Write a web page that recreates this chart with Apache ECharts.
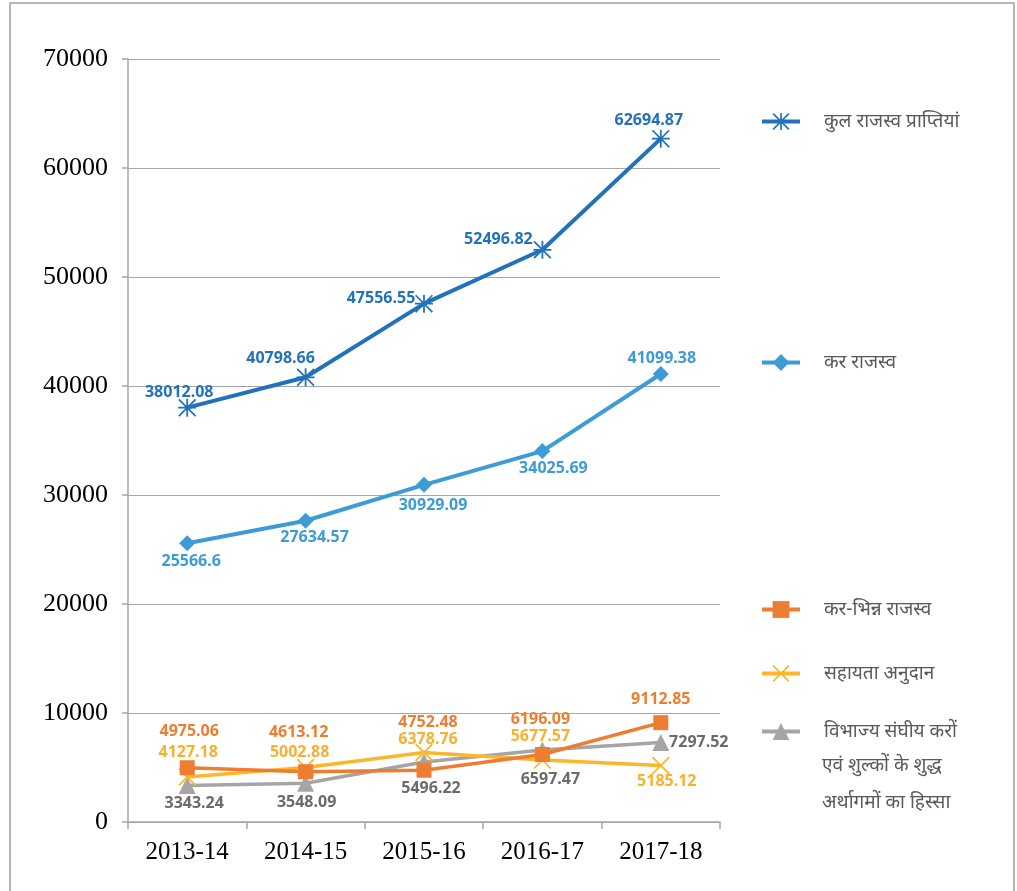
<!DOCTYPE html>
<html>
<head>
<meta charset="utf-8">
<style>
    html, body { margin: 0; padding: 0; background: #fff; }
    #revenueChart { width: 1017px; height: 891px; }
</style>
<script src="https://cdn.jsdelivr.net/npm/echarts@6/dist/echarts.min.js"></script>
</head>
<body>
<div id="revenueChart"></div>
<script>
    // data
    var years = ['2013-14', '2014-15', '2015-16', '2016-17', '2017-18'];
    var totalReceipts = [38012.08, 40798.66, 47556.55, 52496.82, 62694.87];
    var taxRevenue = [25566.6, 27634.57, 30929.09, 34025.69, 41099.38];
    var nonTaxRevenue = [4975.06, 4613.12, 4752.48, 6196.09, 9112.85];
    var grantsInAid = [4127.18, 5002.88, 6378.76, 5677.57, 5185.12];
    var centralTaxShare = [3343.24, 3548.09, 5496.22, 6597.47, 7297.52];
    var yTicks = [0, 10000, 20000, 30000, 40000, 50000, 60000, 70000];

    var seriesNames = ['कुल राजस्व प्राप्तियां', 'कर राजस्व', 'कर-भिन्न राजस्व', 'सहायता अनुदान',
        'विभाज्य संघीय करों एवं शुल्कों के शुद्ध अर्थागमों का हिस्सा'];

    // label placement (offset of label centre from the point), kept apart from values
    var labelShift = [
        [[-8, -15], [-25, -19], [-43, -5], [-44, -10], [-12, -18]],
        [[4, 18], [9, 17], [9, 21], [11, 17], [1, -16]],
        [[2, -36], [-7, -39], [4, -48], [-2, -35], [0, -23]],
        [[1, -25], [-6, -15], [4, -13], [-2, -24], [6, 16]],
        [[7, 18], [1, 19], [7, 26], [8, 29], [38, 0]]
    ];

    var asterisk = 'path://M0 7.2H16V8.8H0Z M7.2 0H8.8V16H7.2Z M1.1 0L16 14.9L14.9 16L0 1.1Z M14.9 0L16 1.1L1.1 16L0 14.9Z';
    var cross = 'path://M1.1 0L16 14.9L14.9 16L0 1.1Z M14.9 0L16 1.1L1.1 16L0 14.9Z';

    function withLabels(values, idx) {
        return values.map(function (v, i) {
            return {value: v, label: {offset: labelShift[idx][i]}};
        });
    }

    function makeSeries(idx, values, color, labelColor, symbol, symbolSize, width) {
        return {
            name: seriesNames[idx],
            type: 'line',
            data: withLabels(values, idx),
            symbol: symbol,
            symbolSize: symbolSize,
            lineStyle: {color: color, width: width},
            itemStyle: {color: color},
            label: {
                show: true,
                position: 'inside',
                color: labelColor,
                fontFamily: 'Noto Sans',
                fontWeight: 'bold',
                fontSize: 16
            },
            z: 10 - idx
        };
    }

    function legendAt(idx, top, text) {
        return {
            left: 755,
            top: top,
            orient: 'vertical',
            itemWidth: 38,
            itemHeight: 21,
            data: [seriesNames[idx]],
            lineStyle: {width: 4},
            formatter: function () { return text; },
            textStyle: {
                color: '#595959',
                fontSize: 19,
                fontFamily: 'Noto Sans',
                padding: [0, 0, 0, 19]
            }
        };
    }

    var revenueOption = {
        backgroundColor: '#fff',
        animation: false,
        grid: {left: 128, right: 297, top: 59, bottom: 69},
        legend: [
            legendAt(0, 107, seriesNames[0]),
            legendAt(1, 348, seriesNames[1]),
            legendAt(2, 595, seriesNames[2]),
            legendAt(3, 659, seriesNames[3]),
            legendAt(4, 717, 'विभाज्य संघीय करों')
        ],
        graphic: [{
            type: 'rect',
            shape: {x: 10, y: 3, width: 1004, height: 900},
            style: {fill: 'none', stroke: '#a0a0a0', lineWidth: 1.5},
            silent: true
        }, {
            type: 'text',
            left: 822,
            top: 756,
            style: {text: 'एवं शुल्कों के शुद्ध', fill: '#595959', font: '19px "Noto Sans"'}
        }, {
            type: 'text',
            left: 822,
            top: 793,
            style: {text: 'अर्थागमों का हिस्सा', fill: '#595959', font: '19px "Noto Sans"'}
        }],
        xAxis: {
            type: 'category',
            data: years,
            boundaryGap: true,
            axisLine: {lineStyle: {color: '#a6a6a6', width: 1.5}},
            axisTick: {show: true, length: 7, lineStyle: {color: '#a6a6a6', width: 1.5}},
            axisLabel: {
                color: '#000',
                fontFamily: 'Liberation Serif',
                fontSize: 25,
                margin: 18
            }
        },
        yAxis: {
            type: 'value',
            min: yTicks[0],
            max: yTicks[yTicks.length - 1],
            interval: yTicks[1] - yTicks[0],
            axisLine: {show: true, lineStyle: {color: '#a6a6a6', width: 1.5}},
            axisTick: {show: true, length: 6, lineStyle: {color: '#a6a6a6', width: 1.5}},
            splitLine: {lineStyle: {color: '#a6a6a6', width: 1.2}},
            axisLabel: {
                color: '#000',
                fontFamily: 'Liberation Serif',
                fontSize: 26,
                margin: 20,
                formatter: function (v) { return String(v); }
            }
        },
        series: [
            makeSeries(0, totalReceipts, '#2272bb', '#2272bb', asterisk, 18, 4),
            makeSeries(1, taxRevenue, '#3d9bd6', '#3d9bd6', 'diamond', 16, 4),
            makeSeries(2, nonTaxRevenue, '#ed7d31', '#ed7d31', 'rect', 15, 3.5),
            makeSeries(3, grantsInAid, '#fdb52a', '#f8b030', cross, 18, 3.5),
            makeSeries(4, centralTaxShare, '#a5a5a5', '#6b6b6b', 'triangle', 17, 3.5)
        ]
    };

    var revenueChart = echarts.init(document.getElementById('revenueChart'));
    revenueChart.setOption(revenueOption);
</script>
</body>
</html>
